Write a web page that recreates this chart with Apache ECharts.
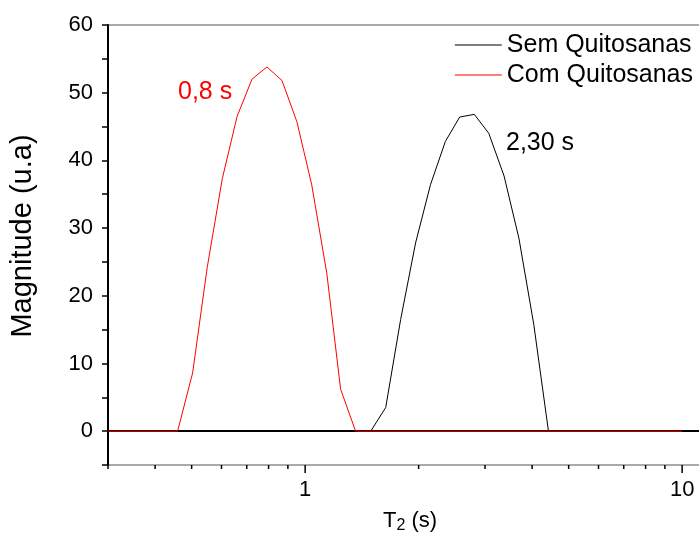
<!DOCTYPE html>
<html>
<head>
<meta charset="utf-8">
<script src="https://cdn.jsdelivr.net/npm/echarts@6/dist/echarts.min.js"></script>
<style>
html,body{margin:0;padding:0;background:#fff;}
#chart{width:699px;height:534px;}
</style>
</head>
<body>
<div id="chart"></div>
<script>
// T2 (s) values and magnitudes
const comT2 = [0.3, 0.459, 0.503, 0.550, 0.603, 0.660, 0.723, 0.792, 0.868, 0.951, 1.041, 1.141, 1.242, 1.361, 10];
const comMag = [0, 0, 8.6, 24.2, 37.3, 46.5, 52.0, 53.8, 51.8, 45.7, 36.4, 23.4, 6.2, 0, 0];

const semT2 = [0.3, 1.493, 1.636, 1.792, 1.963, 2.150, 2.355, 2.57, 2.81, 3.07, 3.37, 3.69, 4.04, 4.42, 10];
const semMag = [0, 0, 3.5, 16.5, 27.8, 36.4, 42.8, 46.4, 46.8, 44.0, 37.7, 28.5, 15.8, 0, 0];

const seriesNames = ['Sem Quitosanas', 'Com Quitosanas'];
const xMajorTicks = [1, 10];
const xMinorTicks = [0.3, 0.4, 0.5, 0.6, 0.7, 0.8, 0.9, 2, 3, 4, 5, 6, 7, 8, 9];
const peakLabels = ['0,8 s', '2,30 s'];

const chart = echarts.init(document.getElementById('chart'), null, {renderer: 'canvas'});
const FONT = 'Liberation Sans, Arial, sans-serif';

function isDecade(v) {
  const l = Math.log10(v);
  return Math.abs(l - Math.round(l)) < 1e-6;
}

const tickData = xMinorTicks.map(v => [v, -5, 4]).concat(xMajorTicks.map(v => [v, -5, 8]));

chart.setOption({
  animation: false,
  backgroundColor: '#fff',
  grid: {left: 108, right: -13, top: 25, bottom: 69, show: true, borderColor: '#555', borderWidth: 1,
         containLabel: false, outerBoundsMode: 'none'},
  legend: {
    orient: 'vertical', right: 1, top: 26,
    data: seriesNames,
    icon: 'path://M0,0H47V1H0Z',
    itemWidth: 47, itemHeight: 1.2, itemGap: 2,
    textStyle: {fontFamily: FONT, fontSize: 25, lineHeight: 28, color: '#000'}
  },
  xAxis: {
    type: 'log', logBase: 10, min: 0.3, max: 12,
    name: '{t|T}{s|2}{t| (s)}', nameLocation: 'middle', nameGap: 42,
    nameTextStyle: {
      rich: {
        t: {fontFamily: FONT, fontSize: 22, color: '#000'},
        s: {fontFamily: FONT, fontSize: 16, color: '#000', verticalAlign: 'bottom', padding: [11, 0, 0, 0]}
      }
    },
    axisLine: {show: true, lineStyle: {color: '#000', width: 2}},
    axisTick: {show: false},
    splitLine: {show: false},
    minorTick: {show: false},
    axisLabel: {
      fontFamily: FONT, fontSize: 22, color: '#000', margin: 14,
      showMinLabel: false, showMaxLabel: false,
      formatter: v => isDecade(v) ? String(Math.round(v)) : ''
    }
  },
  yAxis: {
    type: 'value', min: -5, max: 60, interval: 5,
    name: 'Magnitude (u.a)', nameLocation: 'middle', nameGap: 71,
    nameTextStyle: {fontFamily: FONT, fontSize: 29, color: '#000', padding: [0, 0, 0, 18]},
    axisLine: {show: true, lineStyle: {color: '#000', width: 2}},
    axisTick: {show: true, inside: false, length: 6, lineStyle: {color: '#000', width: 1.5}},
    splitLine: {show: false},
    axisLabel: {
      fontFamily: FONT, fontSize: 22, color: '#000', margin: 15,
      formatter: v => (v % 10 === 0 ? String(v) : '')
    }
  },
  graphic: [
    {type: 'text', left: 178, top: 80, style: {text: peakLabels[0], fontFamily: FONT, fontSize: 25, fill: '#ff0000'}},
    {type: 'text', left: 506, top: 131, style: {text: peakLabels[1], fontFamily: FONT, fontSize: 25, fill: '#000'}}
  ],
  series: [
    {
      name: seriesNames[0], type: 'line', symbol: 'none', z: 2,
      data: semT2.map((x, i) => [x, semMag[i]]),
      lineStyle: {color: '#000', width: 1}, itemStyle: {color: '#000'}
    },
    {
      name: seriesNames[1], type: 'line', symbol: 'none', z: 3,
      data: comT2.map((x, i) => [x, comMag[i]]),
      lineStyle: {color: '#ff0000', width: 1}, itemStyle: {color: '#ff0000'}
    },
    {
      name: 'ticks', type: 'custom', clip: false, silent: true, z: 5,
      encode: {x: 0, y: 1},
      data: tickData,
      renderItem: function (params, api) {
        const p = api.coord([api.value(0), api.value(1)]);
        const len = api.value(2);
        return {type: 'line', shape: {x1: p[0], y1: p[1], x2: p[0], y2: p[1] + len},
                style: {stroke: '#000', lineWidth: 1.5}};
      }
    }
  ]
});
</script>
</body>
</html>
